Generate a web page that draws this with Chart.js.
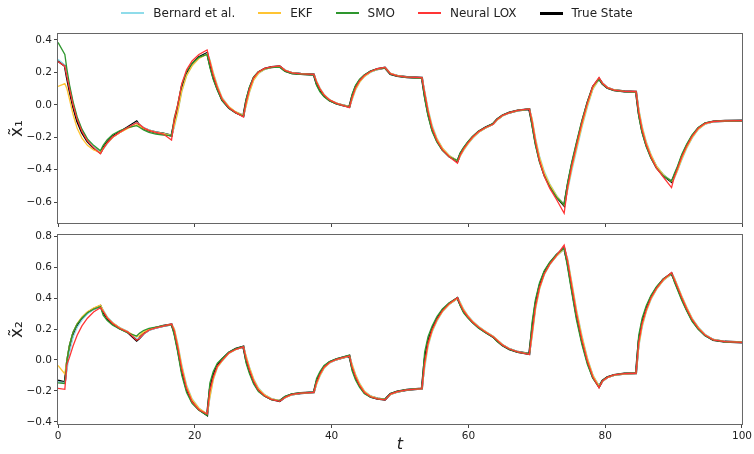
<!DOCTYPE html>
<html>
<head>
<meta charset="utf-8">
<script src="https://cdn.jsdelivr.net/npm/chart.js@4.4.1/dist/chart.umd.min.js"></script>
<style>
  body { margin: 0; background: #fff; font-family: "DejaVu Sans", sans-serif; }
  #wrap { position: relative; width: 754px; height: 454px; }
  canvas { position: absolute; left: 0; top: 0; }
  #legend { position: absolute; top: 6px; left: 0; width: 754px; display: flex; justify-content: center; font-size: 12px; color: #222; }
  .item { display: flex; align-items: center; margin: 0 11.5px; }
  .swatch { width: 23px; height: 2px; margin-right: 9px; }
</style>
</head>
<body>
<div id="wrap">
  <canvas id="top" width="754" height="454"></canvas>
  <canvas id="bottom" width="754" height="454"></canvas>
  <div id="legend"></div>
</div>
<script>
// time grid shared by every series
const t = [0,1.0,
  1.3,1.7,2.2,2.8,3.5,4.3,5.2,6.2,
  6.6,7.2,8.0,9.0,10.2,11.5,
  11.9,12.5,13.3,14.3,15.4,16.6,
  17.0,17.5,18.1,18.8,19.6,20.6,21.8,
  22.2,22.7,23.3,24.0,25.0,26.0,27.1,
  27.5,28.0,28.6,29.3,30.2,31.2,32.4,
  33.2,34.2,35.5,37.4,
  37.8,38.3,38.9,39.7,40.7,41.6,42.6,
  43.0,43.5,44.1,44.8,45.7,46.7,47.8,
  48.6,49.6,51.0,53.2,
  53.6,54.1,54.7,55.4,56.2,57.2,58.4,
  58.8,59.3,59.9,60.6,61.5,62.5,63.6,
  64.2,65.0,66.0,67.2,68.9,
  69.3,69.8,70.4,71.1,71.9,72.9,74.0,
  74.5,75.1,75.8,76.6,77.4,78.2,79.1,
  79.6,80.3,81.3,82.8,84.5,
  84.9,85.4,86.0,86.7,87.5,88.5,89.7,
  90.1,90.6,91.2,91.9,92.7,93.6,94.6,95.8,97.5,100];

// ---- x1 ----
const x1True = [0.27,0.24,
  0.17,0.085,-0.01,-0.10,-0.17,-0.225,-0.265,-0.295,
  -0.265,-0.23,-0.195,-0.168,-0.138,-0.103,
  -0.125,-0.145,-0.158,-0.17,-0.178,-0.19,
  -0.11,-0.02,0.11,0.195,0.25,0.293,0.318,
  0.25,0.17,0.10,0.03,-0.02,-0.048,-0.068,
  0.02,0.10,0.165,0.20,0.222,0.232,0.236,
  0.21,0.195,0.19,0.186,
  0.13,0.09,0.055,0.027,0.008,-0.003,-0.012,
  0.05,0.11,0.15,0.18,0.205,0.22,0.228,
  0.19,0.178,0.17,0.166,
  0.06,-0.05,-0.15,-0.22,-0.275,-0.318,-0.347,
  -0.305,-0.27,-0.235,-0.2,-0.165,-0.14,-0.118,
  -0.09,-0.065,-0.048,-0.035,-0.027,
  -0.11,-0.23,-0.34,-0.43,-0.50,-0.567,-0.62,
  -0.50,-0.375,-0.25,-0.11,0.01,0.11,0.16,
  0.13,0.105,0.09,0.083,0.08,
  -0.05,-0.16,-0.245,-0.32,-0.385,-0.435,-0.474,
  -0.44,-0.39,-0.32,-0.255,-0.195,-0.145,-0.115,-0.103,-0.099,-0.098];

const x1Bernard = [0.28,0.245,
  0.19,0.11,0.01,-0.08,-0.155,-0.215,-0.26,-0.293,
  -0.275,-0.24,-0.2,-0.172,-0.142,-0.108,
  -0.118,-0.14,-0.155,-0.168,-0.177,-0.188,
  -0.14,-0.05,0.08,0.18,0.24,0.288,0.315,
  0.28,0.2,0.12,0.045,-0.012,-0.044,-0.066,
  -0.01,0.075,0.15,0.192,0.218,0.23,0.235,
  0.215,0.197,0.19,0.186,
  0.15,0.105,0.065,0.032,0.01,-0.002,-0.012,
  0.03,0.09,0.138,0.173,0.2,0.218,0.227,
  0.195,0.18,0.17,0.166,
  0.09,-0.02,-0.125,-0.205,-0.265,-0.312,-0.345,
  -0.318,-0.282,-0.245,-0.208,-0.17,-0.143,-0.12,
  -0.095,-0.068,-0.05,-0.036,-0.027,
  -0.08,-0.2,-0.315,-0.41,-0.487,-0.558,-0.615,
  -0.53,-0.41,-0.285,-0.14,-0.015,0.095,0.155,
  0.135,0.108,0.092,0.083,0.079,
  -0.02,-0.13,-0.225,-0.305,-0.375,-0.43,-0.47,
  -0.455,-0.405,-0.34,-0.27,-0.207,-0.153,-0.12,-0.105,-0.099,-0.098];

const x1Ekf = [0.113,0.13,
  0.10,0.03,-0.06,-0.145,-0.205,-0.25,-0.278,-0.293,
  -0.27,-0.235,-0.2,-0.172,-0.145,-0.122,
  -0.13,-0.145,-0.158,-0.17,-0.178,-0.19,
  -0.13,-0.045,0.085,0.18,0.24,0.285,0.312,
  0.275,0.195,0.115,0.04,-0.012,-0.044,-0.066,
  -0.005,0.08,0.152,0.194,0.219,0.231,0.236,
  0.213,0.196,0.19,0.186,
  0.145,0.1,0.062,0.03,0.01,-0.002,-0.012,
  0.035,0.095,0.14,0.175,0.202,0.219,0.228,
  0.193,0.179,0.17,0.166,
  0.08,-0.03,-0.135,-0.21,-0.268,-0.314,-0.345,
  -0.315,-0.278,-0.242,-0.205,-0.168,-0.142,-0.12,
  -0.093,-0.067,-0.049,-0.036,-0.027,
  -0.085,-0.21,-0.325,-0.42,-0.492,-0.562,-0.618,
  -0.52,-0.395,-0.27,-0.13,-0.005,0.1,0.158,
  0.133,0.107,0.091,0.083,0.08,
  -0.03,-0.14,-0.232,-0.31,-0.378,-0.432,-0.472,
  -0.45,-0.4,-0.332,-0.265,-0.202,-0.15,-0.118,-0.104,-0.099,-0.098];

const x1Smo = [0.384,0.31,
  0.22,0.12,0.02,-0.075,-0.15,-0.21,-0.25,-0.283,
  -0.25,-0.215,-0.183,-0.16,-0.14,-0.128,
  -0.138,-0.155,-0.17,-0.18,-0.186,-0.19,
  -0.08,0.0,0.125,0.205,0.255,0.292,0.31,
  0.23,0.155,0.09,0.025,-0.022,-0.05,-0.07,
  0.035,0.11,0.172,0.203,0.222,0.23,0.232,
  0.205,0.192,0.188,0.185,
  0.12,0.08,0.05,0.024,0.006,-0.004,-0.014,
  0.065,0.12,0.158,0.185,0.207,0.221,0.226,
  0.188,0.176,0.169,0.165,
  0.04,-0.07,-0.165,-0.23,-0.28,-0.32,-0.343,
  -0.295,-0.262,-0.228,-0.195,-0.162,-0.138,-0.115,
  -0.087,-0.063,-0.047,-0.034,-0.026,
  -0.13,-0.25,-0.355,-0.44,-0.505,-0.57,-0.615,
  -0.48,-0.355,-0.23,-0.095,0.02,0.115,0.158,
  0.127,0.103,0.089,0.082,0.079,
  -0.07,-0.175,-0.258,-0.33,-0.39,-0.438,-0.47,
  -0.425,-0.375,-0.305,-0.243,-0.186,-0.14,-0.112,-0.102,-0.099,-0.098];

const x1Lox = [0.267,0.238,
  0.175,0.095,0.0,-0.09,-0.165,-0.222,-0.265,-0.302,
  -0.272,-0.235,-0.198,-0.17,-0.14,-0.11,
  -0.12,-0.142,-0.158,-0.17,-0.18,-0.217,
  -0.09,0.0,0.13,0.215,0.27,0.31,0.338,
  0.265,0.18,0.105,0.035,-0.018,-0.048,-0.075,
  0.015,0.098,0.166,0.202,0.224,0.234,0.24,
  0.212,0.196,0.19,0.187,
  0.14,0.098,0.06,0.03,0.009,-0.003,-0.018,
  0.045,0.105,0.148,0.18,0.205,0.222,0.23,
  0.192,0.178,0.17,0.168,
  0.075,-0.04,-0.145,-0.22,-0.276,-0.32,-0.36,
  -0.31,-0.272,-0.236,-0.2,-0.165,-0.14,-0.12,
  -0.09,-0.065,-0.048,-0.035,-0.025,
  -0.1,-0.225,-0.345,-0.44,-0.515,-0.585,-0.668,
  -0.51,-0.38,-0.252,-0.11,0.012,0.115,0.168,
  0.132,0.106,0.09,0.083,0.082,
  -0.045,-0.155,-0.245,-0.322,-0.39,-0.445,-0.51,
  -0.445,-0.39,-0.32,-0.255,-0.195,-0.145,-0.115,-0.103,-0.099,-0.098];

// ---- x2 ----
const x2True = [-0.134,-0.144,
  -0.02,0.085,0.168,0.225,0.268,0.305,0.33,0.35,
  0.31,0.27,0.235,0.205,0.18,0.125,
  0.14,0.17,0.195,0.208,0.22,0.23,
  0.18,0.075,-0.07,-0.19,-0.27,-0.32,-0.356,
  -0.19,-0.10,-0.035,0.005,0.048,0.072,0.086,
  0.0,-0.07,-0.14,-0.195,-0.23,-0.254,-0.265,
  -0.24,-0.222,-0.214,-0.209,
  -0.14,-0.09,-0.045,-0.015,0.004,0.015,0.026,
  -0.05,-0.11,-0.165,-0.21,-0.237,-0.25,-0.256,
  -0.22,-0.205,-0.193,-0.185,
  0.0,0.12,0.2,0.265,0.32,0.365,0.40,
  0.36,0.315,0.28,0.245,0.21,0.18,0.15,
  0.125,0.095,0.07,0.052,0.039,
  0.19,0.36,0.48,0.565,0.625,0.678,0.722,
  0.63,0.47,0.29,0.125,-0.01,-0.11,-0.172,
  -0.135,-0.112,-0.097,-0.088,-0.085,
  0.12,0.24,0.33,0.405,0.465,0.52,0.56,
  0.52,0.465,0.40,0.33,0.26,0.205,0.16,0.13,0.118,0.114];

const x2Bernard = [-0.14,-0.146,
  -0.07,0.05,0.145,0.21,0.258,0.298,0.326,0.348,
  0.325,0.28,0.242,0.21,0.183,0.14,
  0.14,0.165,0.19,0.206,0.218,0.229,
  0.205,0.11,-0.03,-0.16,-0.25,-0.31,-0.35,
  -0.25,-0.13,-0.05,-0.008,0.043,0.067,0.085,
  0.03,-0.045,-0.12,-0.18,-0.224,-0.25,-0.263,
  -0.245,-0.225,-0.215,-0.21,
  -0.16,-0.105,-0.055,-0.02,0.002,0.013,0.024,
  -0.025,-0.09,-0.15,-0.2,-0.232,-0.248,-0.255,
  -0.225,-0.207,-0.194,-0.186,
  -0.06,0.085,0.18,0.25,0.31,0.358,0.397,
  0.375,0.33,0.29,0.254,0.218,0.186,0.155,
  0.133,0.1,0.074,0.054,0.04,
  0.14,0.32,0.455,0.55,0.615,0.672,0.718,
  0.66,0.51,0.33,0.16,0.015,-0.095,-0.168,
  -0.14,-0.115,-0.099,-0.089,-0.086,
  0.08,0.21,0.31,0.39,0.455,0.513,0.556,
  0.535,0.48,0.415,0.345,0.272,0.214,0.166,0.133,0.119,0.115];

const x2Ekf = [-0.035,-0.09,
  0.0,0.1,0.18,0.236,0.278,0.312,0.336,0.355,
  0.32,0.275,0.24,0.208,0.182,0.15,
  0.158,0.18,0.198,0.21,0.22,0.229,
  0.2,0.1,-0.04,-0.17,-0.255,-0.312,-0.35,
  -0.24,-0.125,-0.048,-0.006,0.044,0.068,0.085,
  0.025,-0.05,-0.125,-0.184,-0.226,-0.251,-0.263,
  -0.243,-0.224,-0.215,-0.21,
  -0.155,-0.1,-0.052,-0.018,0.003,0.014,0.025,
  -0.03,-0.095,-0.155,-0.203,-0.234,-0.249,-0.255,
  -0.223,-0.206,-0.194,-0.186,
  -0.04,0.095,0.185,0.255,0.313,0.36,0.398,
  0.37,0.325,0.287,0.25,0.215,0.184,0.153,
  0.13,0.098,0.072,0.053,0.04,
  0.15,0.33,0.46,0.555,0.618,0.674,0.72,
  0.65,0.5,0.32,0.15,0.008,-0.1,-0.17,
  -0.138,-0.114,-0.098,-0.089,-0.086,
  0.09,0.22,0.315,0.395,0.458,0.515,0.558,
  0.53,0.475,0.41,0.34,0.268,0.21,0.163,0.132,0.119,0.115];

const x2Smo = [-0.148,-0.152,
  0.0,0.1,0.18,0.232,0.272,0.305,0.328,0.345,
  0.29,0.255,0.225,0.2,0.175,0.155,
  0.172,0.19,0.205,0.213,0.22,0.228,
  0.16,0.05,-0.1,-0.21,-0.28,-0.325,-0.358,
  -0.15,-0.075,-0.02,0.01,0.052,0.073,0.087,
  -0.02,-0.09,-0.155,-0.205,-0.235,-0.256,-0.264,
  -0.235,-0.22,-0.213,-0.208,
  -0.12,-0.075,-0.035,-0.01,0.007,0.018,0.032,
  -0.07,-0.13,-0.178,-0.218,-0.24,-0.251,-0.255,
  -0.217,-0.203,-0.192,-0.184,
  0.05,0.15,0.22,0.28,0.33,0.37,0.402,
  0.35,0.305,0.272,0.24,0.205,0.176,0.147,
  0.12,0.092,0.068,0.051,0.038,
  0.24,0.39,0.5,0.578,0.633,0.683,0.722,
  0.6,0.44,0.26,0.1,-0.03,-0.12,-0.175,
  -0.132,-0.11,-0.096,-0.087,-0.085,
  0.16,0.27,0.35,0.418,0.474,0.525,0.56,
  0.505,0.45,0.385,0.318,0.25,0.198,0.156,0.128,0.117,0.114];

const x2Lox = [-0.183,-0.19,
  -0.03,0.02,0.09,0.16,0.22,0.27,0.31,0.338,
  0.315,0.272,0.236,0.205,0.18,0.128,
  0.14,0.168,0.193,0.207,0.219,0.232,
  0.19,0.085,-0.06,-0.185,-0.27,-0.322,-0.35,
  -0.2,-0.11,-0.04,-0.003,0.046,0.069,0.085,
  0.01,-0.065,-0.138,-0.195,-0.231,-0.255,-0.268,
  -0.242,-0.223,-0.214,-0.209,
  -0.145,-0.092,-0.047,-0.016,0.004,0.015,0.026,
  -0.045,-0.108,-0.165,-0.21,-0.238,-0.252,-0.258,
  -0.221,-0.205,-0.193,-0.185,
  -0.02,0.11,0.195,0.262,0.318,0.364,0.402,
  0.362,0.317,0.281,0.246,0.211,0.181,0.15,
  0.127,0.096,0.071,0.052,0.035,
  0.17,0.345,0.47,0.558,0.62,0.676,0.743,
  0.64,0.48,0.3,0.13,-0.008,-0.11,-0.18,
  -0.136,-0.113,-0.097,-0.088,-0.086,
  0.11,0.235,0.325,0.402,0.463,0.52,0.565,
  0.522,0.468,0.402,0.332,0.262,0.206,0.161,0.13,0.118,0.114];

const labels = ["Bernard et al.", "EKF", "SMO", "Neural LOX", "True State"];
const xTicks = [0, 20, 40, 60, 80, 100];
const y1Ticks = [-0.6, -0.4, -0.2, 0.0, 0.2, 0.4];
const y2Ticks = [-0.4, -0.2, 0.0, 0.2, 0.4, 0.6, 0.8];

// styles (same order as labels)
const colors = ["#8fdcea", "#ffc433", "#2e962e", "#ff3535", "#000000"];
const widths = [1.3, 1.3, 1.3, 1.3, 2.2];
const drawOrder = [4, 3, 2, 1, 5];   // black underneath, red on top

const FONT = "DejaVu Sans";

const frame = {
  id: "frame",
  afterDraw(chart) {
    const a = chart.chartArea, ctx = chart.ctx;
    ctx.save();
    ctx.strokeStyle = "#666";
    ctx.lineWidth = 1;
    ctx.strokeRect(a.left - 0.5, a.top - 0.5, a.right - a.left + 1, a.bottom - a.top + 1);
    ctx.restore();
  }
};

const fmt = v => v.toFixed(1).replace("-", "\u2212");

function makeChart(id, series, yMin, yMax, yTicks, yTitle, showX, padTop, padBottom) {
  const datasets = series.map((arr, i) => ({
    label: labels[i],
    data: t.map((x, k) => ({ x: x, y: arr[k] })),
    borderColor: colors[i],
    borderWidth: widths[i],
    pointRadius: 0,
    fill: false,
    tension: 0,
    order: drawOrder[i]
  }));

  return new Chart(document.getElementById(id), {
    type: "line",
    data: { datasets },
    plugins: [frame],
    options: {
      responsive: false,
      animation: false,
      events: [],
      layout: { padding: { left: 0, right: 12, top: padTop, bottom: padBottom } },
      plugins: { legend: { display: false }, tooltip: { enabled: false } },
      scales: {
        x: {
          type: "linear", min: 0, max: 100,
          afterBuildTicks: s => { s.ticks = xTicks.map(v => ({ value: v })); },
          afterFit: s => { s.height = showX ? 30 : 4; },
          border: { display: false },
          grid: { drawOnChartArea: false, drawTicks: true, tickLength: 4, color: "#444" },
          ticks: { display: showX, color: "#222", padding: 2, maxRotation: 0,
                   font: { size: 10.5, family: FONT } },
          title: { display: showX, text: "t", color: "#222", padding: { top: 0, bottom: 0 },
                   font: { size: 16, style: "italic", family: FONT } }
        },
        y: {
          type: "linear", min: yMin, max: yMax,
          afterBuildTicks: s => { s.ticks = yTicks.map(v => ({ value: v })); },
          afterFit: s => { s.width = 58; },
          border: { display: false },
          grid: { drawOnChartArea: false, drawTicks: true, tickLength: 4, color: "#444" },
          ticks: { color: "#222", padding: 2, callback: v => fmt(v),
                   font: { size: 10.5, family: FONT } },
          title: { display: true, text: yTitle, color: "#222", padding: { top: 7, bottom: 0 },
                   font: { size: 17, family: FONT } }
        }
      }
    }
  });
}

makeChart("top", [x1Bernard, x1Ekf, x1Smo, x1Lox, x1True], -0.728, 0.436, y1Ticks,
  "x\u0303\u2081", false, 34, 227);
makeChart("bottom", [x2Bernard, x2Ekf, x2Smo, x2Lox, x2True], -0.414, 0.808, y2Ticks,
  "x\u0303\u2082", true, 235, 0);

// legend
const legend = document.getElementById("legend");
labels.forEach((name, i) => {
  const item = document.createElement("div");
  item.className = "item";
  item.innerHTML = `<span class="swatch" style="background:${colors[i]};height:${i === 4 ? 3 : 2}px"></span><span>${name}</span>`;
  legend.appendChild(item);
});
</script>
</body>
</html>
